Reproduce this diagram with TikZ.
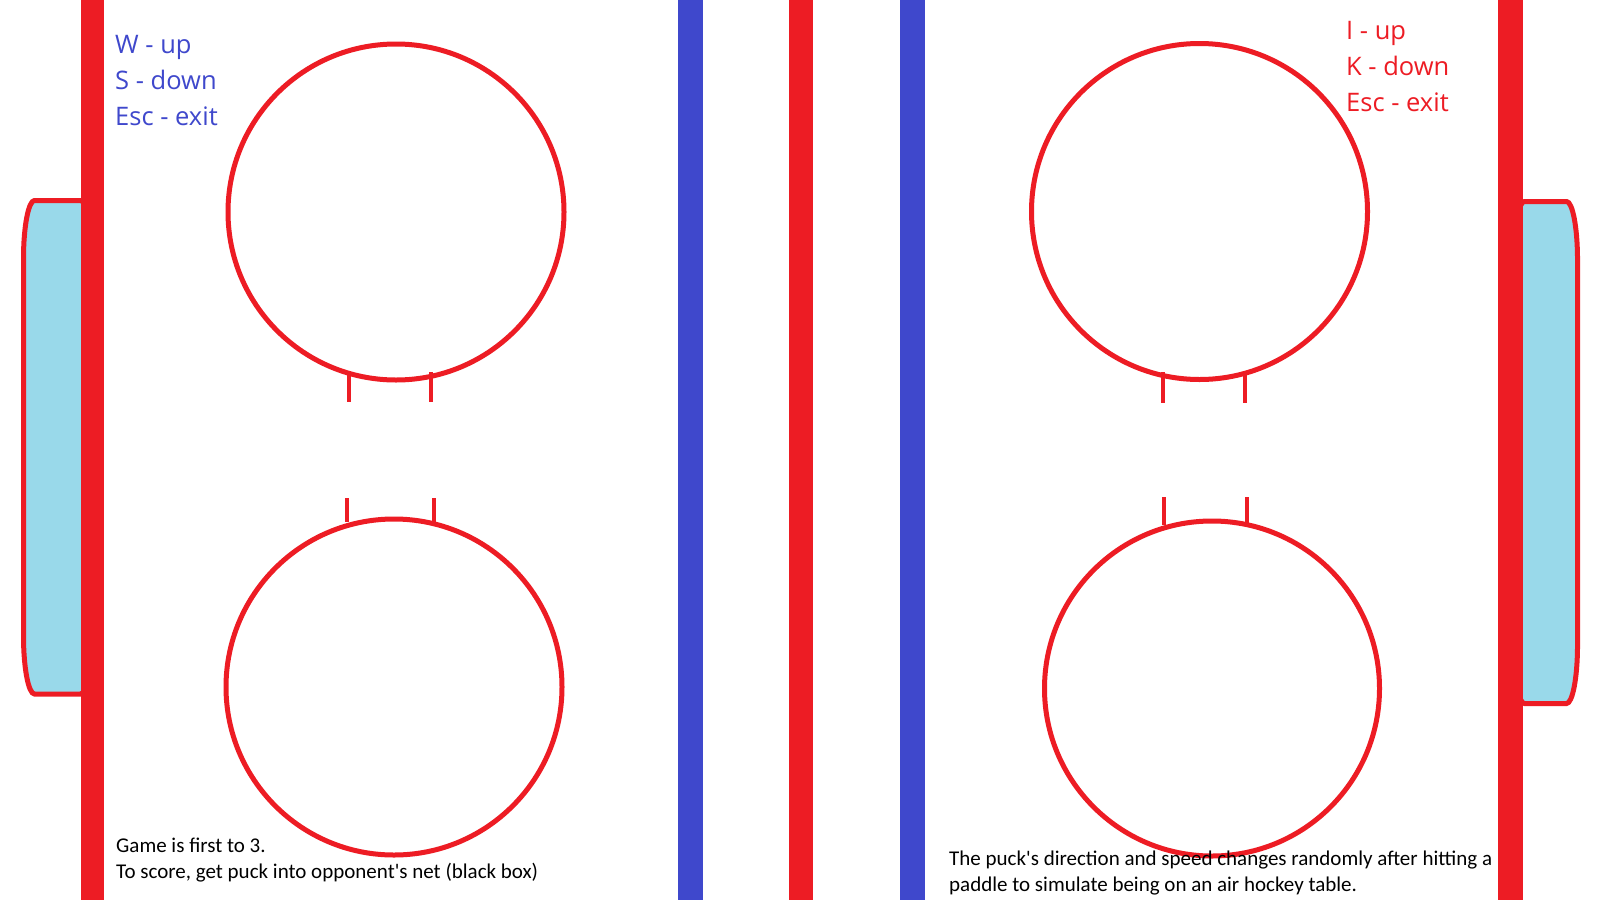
\documentclass[tikz,border=0pt]{standalone}
\usepackage{fontspec}
\setmainfont{Carlito}
\newfontfamily\uifont{Open Sans}
\definecolor{pred}{HTML}{ED1C24}
\definecolor{pblue}{HTML}{3F48CC}
\definecolor{pturq}{HTML}{99D9EA}
\begin{document}
\begin{tikzpicture}[x=1pt,y=-1pt,
  bar/.style={fill=#1,draw=none},
  ring/.style={draw=pred,line width=5pt},
  hash/.style={draw=pred,line width=4pt},
  goalbox/.style={fill=pturq,draw=pred,line width=5pt},
  keys/.style={font=\uifont\fontsize{25.5}{36}\selectfont,anchor=base west,inner sep=0pt,align=left},
  note/.style={font=\fontsize{21}{26}\selectfont,text=black,anchor=base west,inner sep=0pt,align=left}]
\useasboundingbox[fill=white] (0,0) rectangle (1600,900);
% goals
\def\goal#1#2#3#4{%
  \path[goalbox] (#1,#3+58) .. controls (#1,#3+26) and (#1+5,#3) .. (#1+11,#3)
    -- (#2-11,#3) .. controls (#2-5,#3) and (#2,#3+26) .. (#2,#3+58)
    -- (#2,#4-58) .. controls (#2,#4-26) and (#2-5,#4) .. (#2-11,#4)
    -- (#1+11,#4) .. controls (#1+5,#4) and (#1,#4-26) .. (#1,#4-58) -- cycle;}
\goal{23.5}{91.5}{200.5}{694}
\goal{1513.5}{1577.5}{201.5}{703.5}
% bars
\path[bar=pred] (81,0) rectangle (104,900);
\path[bar=pblue] (677.5,0) rectangle (703,900);
\path[bar=pred] (789,0) rectangle (813,900);
\path[bar=pblue] (900,0) rectangle (924.5,900);
\path[bar=pred] (1498,0) rectangle (1522.7,900);
% circles
\draw[ring] (396,212) circle[radius=168];
\draw[ring] (394,687) circle[radius=168];
\draw[ring] (1199.5,211.5) circle[radius=168];
\draw[ring] (1212,688.5) circle[radius=167.5];
% hash marks
\draw[hash] (349,372) -- (349,402);
\draw[hash] (431,372) -- (431,402);
\draw[hash] (347,498) -- (347,522);
\draw[hash] (434,498) -- (434,522);
\draw[hash] (1163,372) -- (1163,403);
\draw[hash] (1245,372) -- (1245,403);
\draw[hash] (1164,497) -- (1164,525);
\draw[hash] (1247,497) -- (1247,523);
% texts (anchor = baseline of the last line)
\node[keys,text=pblue] (lkeys) at (115,125) {W - up\\S - down\\Esc - exit};
\node[keys,text=pred] (rkeys) at (1346,111) {I - up\\K - down\\Esc - exit};
\node[note] (lnote) at (116,878) {Game is first to 3.\\To score, get puck into opponent\textquotesingle s net (black box)};
\node[note] (rnote) at (949,891) {The puck\textquotesingle s direction and speed changes randomly after hitting a\\paddle to simulate being on an air hockey table.};
\end{tikzpicture}
\end{document}
